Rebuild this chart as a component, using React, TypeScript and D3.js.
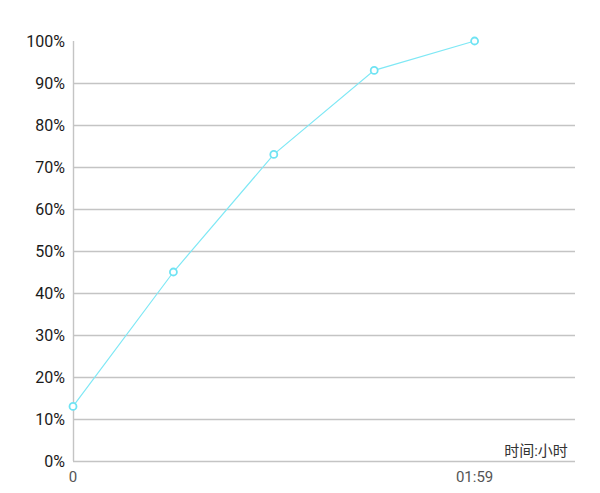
import React from "react";
import * as d3 from "d3";

const categories = ["0", "1", "2", "3", "01:59", "5"];
const xLabels = ["0", "", "", "", "01:59", ""];
const values = [13, 45, 73, 93, 100];
const yTicks = [0, 10, 20, 30, 40, 50, 60, 70, 80, 90, 100];

const W = 600, H = 493;
const left = 73, right = 575, top = 41, bottom = 461;

export default function App() {
  const x = d3.scalePoint<string>().domain(categories).range([left, right]);
  const y = d3.scaleLinear().domain([0, 100]).range([bottom, top]);
  const line = d3.line<number>().x((_, i) => x(categories[i])!).y(d => y(d));
  const font = "Roboto, 'Noto Sans CJK SC', sans-serif";
  return (
    <svg width={W} height={H} style={{ position: "absolute", left: 0, top: 0, background: "#fff" }}>
      {yTicks.map(t => (
        <g key={t}>
          {t < 100 && (
            <line x1={left} x2={right} y1={Math.round(y(t)) + 0.5} y2={Math.round(y(t)) + 0.5} stroke="#c4c4c4" strokeWidth={1.4} />
          )}
          <text x={65} y={y(t)} dy="0.35em" textAnchor="end" fontSize={16} fill="#1a1a1a" fontFamily={font}>{t}%</text>
        </g>
      ))}
      <line x1={left + 0.5} x2={left + 0.5} y1={top} y2={bottom} stroke="#c4c4c4" strokeWidth={1.4} />
      {categories.map((c, i) => xLabels[i] ? (
        <text key={c} x={x(c)} y={477} dy="0.35em" textAnchor="middle" fontSize={15} fill="#555" fontFamily={font}>{xLabels[i]}</text>
      ) : null)}
      <text x={536} y={451} dy="0.35em" textAnchor="middle" fontSize={15} fill="#333" fontFamily={font}
        stroke="#fff" strokeWidth={3} style={{ paintOrder: "stroke" }}>时间:小时</text>
      <path d={line(values)!} fill="none" stroke="#7fe8f5" strokeWidth={1.2} />
      {values.map((v, i) => (
        <circle key={i} cx={x(categories[i])} cy={y(v)} r={3.5} fill="#fff" stroke="#6fe3f3" strokeWidth={1.8} />
      ))}
    </svg>
  );
}
